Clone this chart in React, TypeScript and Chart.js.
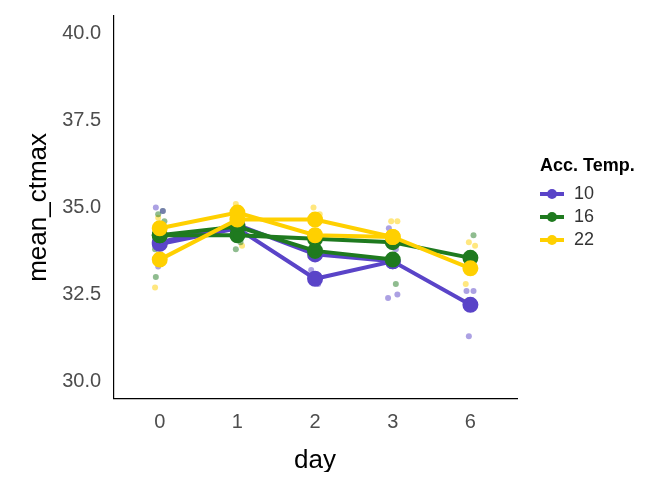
import { useEffect, useRef } from 'react';
import { Chart, registerables } from 'chart.js';
Chart.register(...registerables);

const days = ['0', '1', '2', '3', '6'];
const temps = ['10', '16', '22'];
const colors = ['#5a44c8', '#1f7a1f', '#ffd000'];

// mean lines: two replicate series per acclimation temperature (null = no value)
const meansA: (number | null)[][] = [
  [34.0, 34.5, 33.65, 33.45, null],
  [34.2, 34.2, 34.1, 34.0, 33.55],
  [34.4, 34.85, 34.2, 34.15, 33.25],
];
const meansB: (number | null)[][] = [
  [33.95, 34.4, 32.95, 33.45, 32.2],
  [34.2, 34.45, 33.75, 33.5, null],
  [33.5, 34.65, 34.65, 34.15, null],
];

// raw observations per temperature, per day
const raw: number[][][] = [
  [[35.0, 34.9, 33.3, 34.0], [34.5, 34.3], [33.2, 32.8], [34.4, 33.8, 33.6, 32.5, 32.4], [32.6, 32.6, 31.3, 32.2]],
  [[34.9, 34.8, 34.6, 33.8, 33.0], [34.0, 33.8], [34.3, 33.8], [32.8, 34.0], [34.2, 33.2]],
  [[34.7, 33.9, 32.7], [35.1, 33.9], [35.0, 34.8, 33.6], [34.6, 34.6], [34.0, 33.9, 32.8, 32.3]],
];
const jitter = [-0.05, 0.04, -0.02, 0.06, -0.06];

const yTicks = [30, 32.5, 35, 37.5, 40];

export default function App() {
  const ref = useRef<HTMLCanvasElement>(null);

  useEffect(() => {
    const font = 'Liberation Sans, Arial, sans-serif';
    const datasets: any[] = [];
    temps.forEach((_, t) => {
      const pts: { x: number; y: number }[] = [];
      raw[t].forEach((vals, d) => vals.forEach((v, k) => pts.push({ x: d + jitter[(k + t) % jitter.length], y: v })));
      datasets.push({
        type: 'scatter', data: pts, backgroundColor: colors[t] + '80', borderWidth: 0, pointRadius: 3, order: 3,
      });
    });
    temps.forEach((_, t) => {
      [meansA, meansB].forEach(m => {
        datasets.push({
          type: 'line',
          data: m[t].map((v, d) => (v == null ? null : { x: d, y: v })).filter(Boolean),
          borderColor: colors[t], backgroundColor: colors[t], borderWidth: 4,
          pointRadius: 6, pointHoverRadius: 6, order: 2 - t * 0.1,
        });
      });
    });
    const c = new Chart(ref.current!, {
      type: 'scatter',
      data: { datasets },
      options: {
        animation: false, responsive: false,
        layout: { padding: { right: 155, top: 5, left: 19 } },
        plugins: { legend: { display: false }, tooltip: { enabled: false } },
        scales: {
          x: {
            type: 'linear', min: -0.6, max: 4.6,
            afterBuildTicks: (ax: any) => { ax.ticks = days.map((_, i) => ({ value: i })); },
            ticks: { callback: (v: any) => days[v], color: '#4d4d4d', font: { family: font, size: 20 }, padding: 4 },
            grid: { display: false },
            border: { color: '#000', width: 1.2 },
            title: { display: true, text: 'day', color: '#000', font: { family: font, size: 26 }, padding: { top: 6 } },
          },
          y: {
            min: 29.5, max: 40.5,
            afterBuildTicks: (ax: any) => { ax.ticks = yTicks.map(v => ({ value: v })); },
            ticks: { callback: (v: any) => Number(v).toFixed(1), color: '#4d4d4d', font: { family: font, size: 20 }, padding: 4 },
            grid: { display: false },
            border: { color: '#000', width: 1.2 },
            title: { display: true, text: 'mean_ctmax', color: '#000', font: { family: font, size: 26 } },
          },
        },
      },
    });
    return () => c.destroy();
  }, []);

  return (
    <div style={{ position: 'relative', width: 672, height: 480, margin: -8, background: '#fff', fontFamily: 'Liberation Sans, Arial, sans-serif' }}>
      <canvas ref={ref} width={672} height={480} />
      <div style={{ position: 'absolute', left: 540, top: 155 }}>
        <div style={{ fontWeight: 'bold', fontSize: 18, marginBottom: 6 }}>Acc. Temp.</div>
        {temps.map((t, i) => (
          <div key={t} style={{ display: 'flex', alignItems: 'center', height: 23, fontSize: 18, color: '#333' }}>
            <span style={{ position: 'relative', width: 24, height: 4, background: colors[i], marginRight: 10 }}>
              <span style={{ position: 'absolute', left: 7, top: -3, width: 10, height: 10, borderRadius: 5, background: colors[i] }} />
            </span>
            {t}
          </div>
        ))}
      </div>
    </div>
  );
}
